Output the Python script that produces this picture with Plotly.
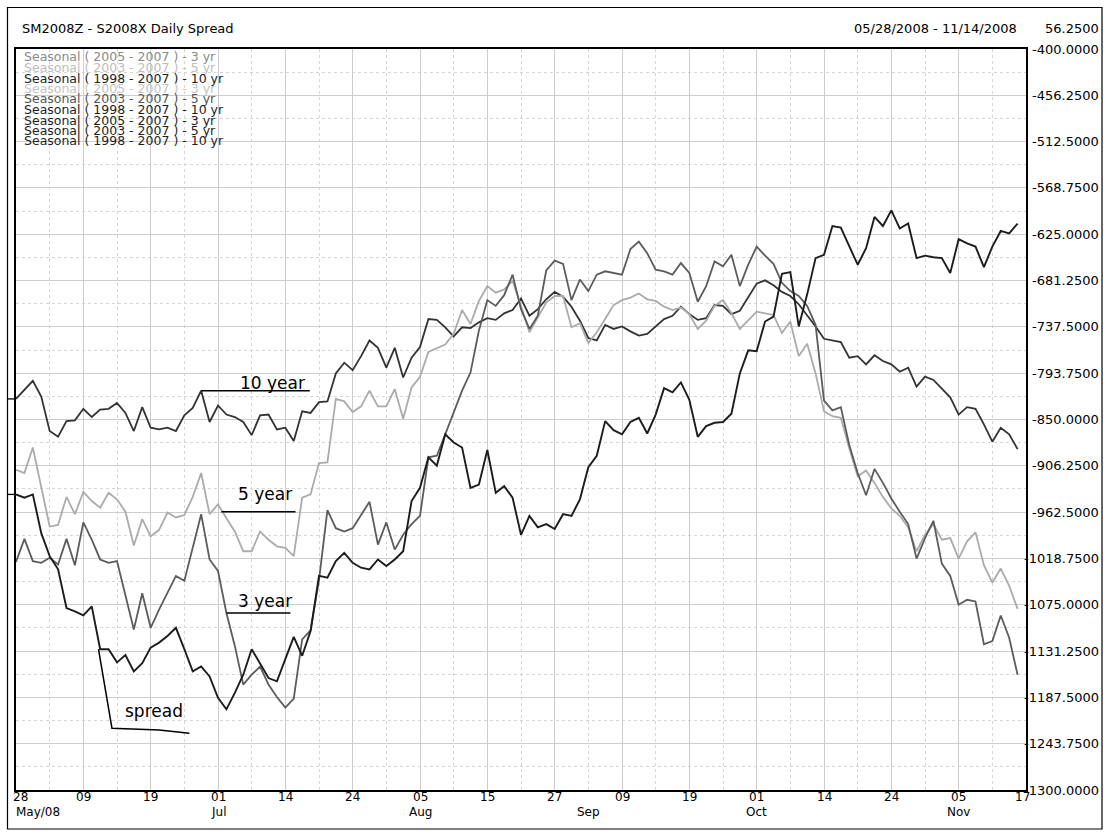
import plotly.graph_objects as go

# ---------------- data (trading-day index 0 = 28 May 2008) ----------------
spread = [-941, -945, -941, -988, -1016, -1032, -1079, -1083, -1088, -1077,
          -1129, -1129, -1145, -1136, -1156, -1146, -1127, -1121, -1113, -1103,
          -1129, -1156, -1150, -1162, -1188, -1202, -1182, -1160, -1129, -1147,
          -1164, -1168, -1142, -1114, -1137, -1107, -1040, -1042, -1022, -1012,
          -1024, -1030, -1032, -1020, -1028, -1020, -1010, -949, -933, -896,
          -906, -868, -878, -884, -933, -929, -887, -939, -931, -945,
          -990, -967, -981, -977, -983, -965, -967, -947, -908, -894,
          -852, -863, -868, -853, -848, -867, -844, -812, -817, -805,
          -826, -871, -858, -854, -853, -843, -794, -766, -767, -731,
          -725, -673, -671, -737, -698, -654, -650, -615, -617, -640,
          -662, -642, -604, -615, -596, -618, -612, -654, -651, -653,
          -654, -672, -631, -636, -640, -665, -640, -621, -624, -612]

three_year = [-1023, -995, -1022, -1024, -1018, -1026, -995, -1027, -975, -996,
              -1020, -1024, -1022, -1065, -1105, -1061, -1103, -1081, -1061, -1040,
              -1046, -1004, -965, -1020, -1034, -1085, -1125, -1172, -1160, -1150,
              -1172, -1187, -1200, -1189, -1117, -1106, -1045, -960, -982, -986,
              -982, -966, -950, -1002, -975, -1008, -990, -977, -967, -896,
              -894, -868, -842, -815, -793, -742, -705, -712, -699, -674,
              -716, -740, -724, -669, -657, -661, -705, -680, -694, -674,
              -670, -672, -674, -643, -634, -648, -668, -670, -674, -660,
              -672, -707, -688, -658, -664, -650, -688, -662, -640, -651,
              -661, -684, -694, -700, -712, -735, -827, -839, -835, -881,
              -915, -942, -910, -927, -946, -962, -977, -1019, -994, -973,
              -1025, -1040, -1075, -1069, -1071, -1123, -1119, -1088, -1115, -1160]

five_year = [-911, -915, -884, -932, -980, -978, -944, -965, -938, -949,
             -957, -939, -947, -962, -1003, -971, -992, -984, -963, -969,
             -966, -944, -915, -965, -953, -970, -986, -1010, -1010, -986,
             -996, -1004, -1006, -1016, -945, -941, -903, -902, -825, -828,
             -841, -834, -815, -834, -834, -813, -849, -811, -798, -768,
             -763, -759, -746, -717, -734, -706, -688, -696, -692, -682,
             -712, -744, -726, -708, -700, -700, -738, -733, -757, -744,
             -728, -711, -705, -702, -697, -704, -706, -713, -717, -714,
             -722, -740, -730, -712, -705, -721, -740, -730, -719, -721,
             -723, -745, -731, -773, -758, -794, -840, -846, -848, -885,
             -919, -912, -927, -944, -958, -967, -981, -1010, -990, -977,
             -996, -994, -1019, -998, -987, -1027, -1048, -1031, -1052, -1080]

ten_year = [-825, -814, -803, -822, -864, -871, -852, -851, -837, -847,
            -838, -837, -830, -842, -864, -835, -860, -862, -860, -864,
            -845, -836, -815, -853, -833, -844, -847, -853, -869, -845,
            -844, -862, -860, -876, -840, -842, -829, -828, -794, -781,
            -790, -773, -754, -763, -787, -763, -799, -775, -762, -728,
            -729, -738, -749, -738, -739, -732, -727, -729, -721, -717,
            -703, -724, -716, -704, -695, -701, -713, -730, -751, -754,
            -735, -740, -737, -743, -748, -746, -737, -728, -724, -713,
            -722, -729, -727, -711, -712, -722, -718, -701, -685, -681,
            -687, -695, -700, -710, -723, -737, -752, -754, -756, -775,
            -773, -783, -772, -779, -783, -792, -787, -810, -798, -802,
            -812, -823, -844, -835, -837, -856, -877, -860, -868, -886]

# x-axis: a labelled tick every 8 trading days (28 May .. 17 Nov)
tick_index = [0, 8, 16, 24, 32, 40, 48, 56, 64, 72, 80, 88, 96, 104, 112, 120]
tick_days = ["28", "09", "19", "01", "14", "24", "05", "15", "27",
             "09", "19", "01", "14", "24", "05", "17"]
month_index = [24, 48, 68, 88, 112]
month_names = ["Jul", "Aug", "Sep", "Oct", "Nov"]
first_month = "May/08"

y_min, y_max, y_step = -1300.0, -400.0, 56.25
y_ticks = [y_max - i * y_step for i in range(17)]

legend_texts = ["Seasonal ( 2005 - 2007 ) - 3 yr", "Seasonal ( 2003 - 2007 ) - 5 yr",
                "Seasonal ( 1998 - 2007 ) - 10 yr", "Seasonal ( 2005 - 2007 ) - 3 yr",
                "Seasonal ( 2003 - 2007 ) - 5 yr", "Seasonal ( 1998 - 2007 ) - 10 yr",
                "Seasonal ( 2005 - 2007 ) - 3 yr", "Seasonal ( 2003 - 2007 ) - 5 yr",
                "Seasonal ( 1998 - 2007 ) - 10 yr"]
legend_colors = ["#8a8a8a", "#bdbdbd", "#1e1e1e", "#c4c4c4", "#555555",
                 "#1e1e1e", "#1e1e1e", "#1e1e1e", "#1e1e1e"]

title_text = "SM2008Z - S2008X Daily Spread"
range_text = "05/28/2008 - 11/14/2008"
step_text = "56.2500"

# ---------------- layout geometry ----------------
W, H = 1109, 834
ML, MR, MT, MB = 16, 83, 49, 44
PW, PH = W - ML - MR, H - MT - MB
FONT = "DejaVu Sans"


def pxx(p):
    return (p - ML) / PW


def pxy(p):
    return (H - MB - p) / PH


x = list(range(len(spread)))

fig = go.Figure()
series = [
    (ten_year, "#333333", 1.8),
    (five_year, "#ababab", 1.8),
    (three_year, "#5c5c5c", 1.8),
    (spread, "#1c1c1c", 1.9),
]
for ys, col, w in series:
    fig.add_trace(go.Scatter(x=x, y=ys, mode="lines",
                             line=dict(color=col, width=w), showlegend=False,
                             hoverinfo="skip"))

ann = []
ann.append(dict(text=title_text, x=pxx(20), y=pxy(28), xref="paper", yref="paper",
                xanchor="left", yanchor="middle", showarrow=False,
                font=dict(family=FONT, size=13, color="black")))
ann.append(dict(text=range_text, x=pxx(1019), y=pxy(28), xref="paper", yref="paper",
                xanchor="right", yanchor="middle", showarrow=False,
                font=dict(family=FONT, size=13, color="black")))
ann.append(dict(text=step_text, x=pxx(1101), y=pxy(28), xref="paper", yref="paper",
                xanchor="right", yanchor="middle", showarrow=False,
                font=dict(family=FONT, size=13, color="black")))
for v in y_ticks:
    ann.append(dict(text=f"{v:.4f}", x=pxx(1101), y=v, xref="paper", yref="y",
                    xanchor="right", yanchor="middle", showarrow=False,
                    font=dict(family=FONT, size=13, color="black")))
for i, (ti, td) in enumerate(zip(tick_index, tick_days)):
    shift = 4 if i == 0 else (-4 if i == len(tick_index) - 1 else 0)
    ann.append(dict(text=td, x=ti, y=pxy(797), xref="x", yref="paper", xshift=shift,
                    xanchor="center", yanchor="middle", showarrow=False,
                    font=dict(family=FONT, size=12, color="black")))
ann.append(dict(text=first_month, x=pxx(14), y=pxy(812), xref="paper", yref="paper",
                xanchor="left", yanchor="middle", showarrow=False,
                font=dict(family=FONT, size=12, color="black")))
for mi, mn in zip(month_index, month_names):
    ann.append(dict(text=mn, x=mi, y=pxy(812), xref="x", yref="paper",
                    xanchor="center", yanchor="middle", showarrow=False,
                    font=dict(family=FONT, size=12, color="black")))
for i, (t, c) in enumerate(zip(legend_texts, legend_colors)):
    ann.append(dict(text=t, x=pxx(22), y=pxy(57 + i * 10.5), xref="paper", yref="paper",
                    xanchor="left", yanchor="middle", showarrow=False,
                    font=dict(family=FONT, size=12.5, color=c)))

# series labels with leader lines
lab_font = dict(family=FONT, size=17, color="black")
ann.append(dict(text="10 year", x=30.5, y=-806, xref="x", yref="y", showarrow=False,
                xanchor="center", yanchor="middle", font=lab_font))
ann.append(dict(text="5 year", x=29.6, y=-940, xref="x", yref="y", showarrow=False,
                xanchor="center", yanchor="middle", font=lab_font))
ann.append(dict(text="3 year", x=29.6, y=-1071, xref="x", yref="y", showarrow=False,
                xanchor="center", yanchor="middle", font=lab_font))
ann.append(dict(text="spread", x=16.4, y=-1204, xref="x", yref="y", showarrow=False,
                xanchor="center", yanchor="middle", font=lab_font))

shapes = [
    dict(type="line", xref="x", yref="y", x0=22, y0=ten_year[22], x1=34.9, y1=ten_year[22],
         line=dict(color="black", width=1.5)),
    dict(type="line", xref="x", yref="y", x0=24.4, y0=-962, x1=33.2, y1=-962,
         line=dict(color="black", width=1.5)),
    dict(type="line", xref="x", yref="y", x0=25, y0=three_year[25], x1=32.6, y1=three_year[25],
         line=dict(color="black", width=1.5)),
    dict(type="path", xref="x", yref="y",
         path=f"M 9.8,{spread[10]} L 11.4,-1225 L 17,-1227 L 20.6,-1231",
         line=dict(color="black", width=1.5)),
    # outer frame
    dict(type="rect", xref="paper", yref="paper", x0=pxx(7.5), x1=pxx(1102), y0=pxy(7.5), y1=pxy(829),
         line=dict(color="black", width=1.2), fillcolor="rgba(0,0,0,0)", layer="above"),
    # start markers on left border
    dict(type="line", xref="paper", yref="y", x0=pxx(8), x1=0, y0=ten_year[0], y1=ten_year[0],
         line=dict(color="black", width=1.3)),
    dict(type="line", xref="paper", yref="y", x0=pxx(8), x1=0, y0=spread[0], y1=spread[0],
         line=dict(color="black", width=1.3)),
]

grid_col = "#cdcdcd"
minor_col = "#d6d6d6"
fig.update_layout(
    width=W, height=H,
    margin=dict(l=ML, r=MR, t=MT, b=MB, pad=0),
    paper_bgcolor="white", plot_bgcolor="white",
    annotations=ann, shapes=shapes,
    xaxis=dict(range=[0, 120], tickmode="array", tickvals=tick_index, showticklabels=False,
               ticks="", showgrid=True, gridcolor=grid_col, gridwidth=1, zeroline=False,
               showline=True, linecolor="black", linewidth=2, mirror=True, fixedrange=True,
               minor=dict(tick0=0, dtick=4, showgrid=True, gridcolor=minor_col,
                          griddash="dot", gridwidth=1, ticks="")),
    yaxis=dict(range=[y_min, y_max], tickmode="array", tickvals=y_ticks, showticklabels=False,
               ticks="", side="right", showgrid=True, gridcolor=grid_col, gridwidth=1,
               zeroline=False, showline=True, linecolor="black", linewidth=2, mirror=True,
               fixedrange=True,
               minor=dict(tick0=y_max, dtick=y_step / 2, showgrid=True, gridcolor=minor_col,
                          griddash="dot", gridwidth=1, ticks="")),
    font=dict(family=FONT, size=13, color="black"),
)

fig.write_html("out.html", config={"displayModeBar": False},
               post_script="document.body.style.margin='0';")
